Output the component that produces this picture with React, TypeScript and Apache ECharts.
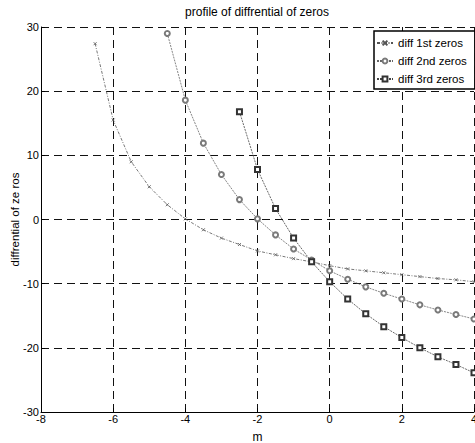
import React, { useEffect, useRef } from "react";
import * as echarts from "echarts";

const seriesNames = ["diff 1st zeros", "diff 2nd zeros", "diff 3rd zeros"];

const x1 = [-6.5, -6, -5.5, -5, -4.5, -4, -3.5, -3, -2.5, -2, -1.5, -1, -0.5, 0, 0.5, 1, 1.5, 2, 2.5, 3, 3.5, 4];
const y1 = [27.4, 15.5, 9.0, 5.1, 2.3, 0.1, -1.6, -2.9, -3.9, -4.9, -5.5, -6.1, -6.6, -7.2, -7.7, -8.0, -8.3, -8.6, -8.9, -9.2, -9.4, -9.7];

const x2 = [-4.5, -4, -3.5, -3, -2.5, -2, -1.5, -1, -0.5, 0, 0.5, 1, 1.5, 2, 2.5, 3, 3.5, 4];
const y2 = [29.0, 18.6, 11.9, 7.0, 3.1, 0.1, -2.4, -4.6, -6.3, -8.0, -9.3, -10.5, -11.5, -12.4, -13.3, -14.1, -14.8, -15.5];

const x3 = [-2.5, -2, -1.5, -1, -0.5, 0, 0.5, 1, 1.5, 2, 2.5, 3, 3.5, 4];
const y3 = [16.8, 7.8, 1.7, -2.9, -6.6, -9.7, -12.4, -14.7, -16.7, -18.4, -20.0, -21.4, -22.6, -23.9];

const titleText = "profile of diffrential of zeros";
const xName = "m";
const yName = "diffrential of ze ros";

const FONT = "'Liberation Sans', Arial, Helvetica, sans-serif";

const zip = (xs: number[], ys: number[]) => xs.map((x, i) => [x, ys[i]]);

export default function App() {
  const ref = useRef<HTMLDivElement>(null);
  useEffect(() => {
    document.body.style.margin = "0";
    if (!ref.current) return;
    const chart = echarts.init(ref.current, null, { renderer: "svg" });
    const gridLine = { show: true, lineStyle: { color: "#111", width: 1, type: [8, 5] as any } };
    chart.setOption({
      animation: false,
      backgroundColor: "#fff",
      textStyle: { fontFamily: FONT },
      graphic: [
        {
          type: "text",
          x: 257,
          y: 12,
          style: {
            text: titleText,
            fontSize: 12,
            fontFamily: FONT,
            fill: "#000",
            align: "center",
            verticalAlign: "middle",
          },
        },
      ],
      grid: {
        left: 41,
        right: 1,
        top: 27,
        bottom: 31,
        containLabel: false,
        outerBoundsMode: "none",
      },
      legend: {
        orient: "vertical",
        left: 374,
        top: 31,
        padding: [6, 8, 4, 2],
        itemWidth: 16,
        itemHeight: 6,
        itemGap: 6,
        backgroundColor: "#fff",
        borderColor: "#000",
        borderWidth: 1.5,
        borderRadius: 0,
        textStyle: { fontSize: 11.5, color: "#000", fontFamily: FONT, lineHeight: 12 },
        data: seriesNames,
      },
      xAxis: {
        type: "value",
        min: -8,
        max: 4,
        interval: 2,
        name: xName,
        nameLocation: "middle",
        nameGap: 19,
        nameMoveOverlap: false,
        nameTextStyle: { fontSize: 12, color: "#000", fontFamily: FONT },
        axisLine: { show: true, onZero: false, lineStyle: { color: "#000", width: 1 } },
        axisTick: { show: true, inside: true, length: 4, lineStyle: { color: "#000" } },
        axisLabel: { fontSize: 11, color: "#000", margin: 1, fontFamily: FONT },
        splitLine: gridLine,
      },
      yAxis: {
        type: "value",
        min: -30,
        max: 30,
        interval: 10,
        name: yName,
        nameLocation: "middle",
        nameGap: 20,
        nameMoveOverlap: false,
        nameTextStyle: { fontSize: 11.5, color: "#000", fontFamily: FONT },
        axisLine: { show: true, onZero: false, lineStyle: { color: "#000", width: 1 } },
        axisTick: { show: true, inside: true, length: 4, lineStyle: { color: "#000" } },
        axisLabel: { fontSize: 11, color: "#000", margin: 2, fontFamily: FONT },
        splitLine: gridLine,
      },
      series: [
        {
          name: seriesNames[0],
          type: "line",
          data: zip(x1, y1),
          symbol: "path://M0,0L10,10M10,0L0,10",
          symbolSize: 3,
          itemStyle: { color: "#555", borderColor: "#555", borderWidth: 0.8 },
          lineStyle: { color: "#555", width: 0.8, type: [3, 1.5, 1, 1.5] as any },
        },
        {
          name: seriesNames[1],
          type: "line",
          data: zip(x2, y2),
          symbol: "emptyCircle",
          symbolSize: 5,
          itemStyle: { color: "#7a7a7a", borderWidth: 1 },
          lineStyle: { color: "#666", width: 0.8, type: [2, 1] as any },
        },
        {
          name: seriesNames[2],
          type: "line",
          data: zip(x3, y3),
          symbol: "emptyRect",
          symbolSize: 5,
          itemStyle: { color: "#333", borderWidth: 0.8 },
          lineStyle: { color: "#444", width: 0.8, type: [2, 1] as any },
        },
      ],
    });
    return () => chart.dispose();
  }, []);
  return <div ref={ref} style={{ width: 475, height: 443 }} />;
}
